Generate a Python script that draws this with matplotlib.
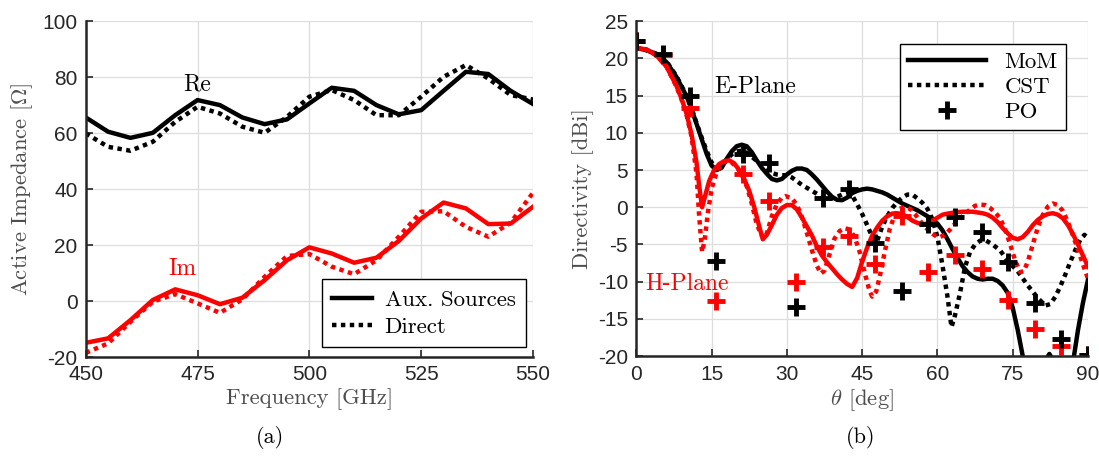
import numpy as np
import matplotlib
matplotlib.use('Agg')
import matplotlib.pyplot as plt

plt.rcParams['mathtext.fontset'] = 'cm'
plt.rcParams['axes.unicode_minus'] = False

# ---- (a) active impedance ----
freq = [450, 455, 460, 465, 470, 475, 480, 485, 490, 495, 500,
        505, 510, 515, 520, 525, 530, 535, 540, 545, 550]
re_aux = [65.6, 60.5, 58.3, 60.1, 66.4, 71.8, 70.0, 65.6, 63.2, 64.9, 70.6,
          76.2, 75.1, 70.0, 66.7, 68.2, 75.1, 81.9, 81.1, 75.1, 70.4]
re_dir = [59.9, 55.1, 53.7, 56.9, 64.0, 69.4, 67.0, 62.3, 60.1, 65.8, 73.0,
          75.4, 71.8, 66.4, 66.4, 73.0, 80.1, 84.3, 79.5, 73.6, 72.0]
im_aux = [-14.9, -13.3, -6.8, 0.4, 4.2, 2.1, -1.1, 1.2, 7.5, 14.6, 19.2,
          17.0, 13.7, 15.5, 21.5, 29.5, 35.2, 33.1, 27.5, 27.7, 33.7]
im_dir = [-18.5, -15.1, -7.4, -0.2, 2.5, -0.8, -4.2, 0.6, 8.7, 16.1, 16.8,
          12.3, 9.6, 14.6, 23.0, 31.9, 32.1, 26.5, 23.0, 28.0, 38.7]

# ---- (b) directivity ----
th_e_mom = [0, 2, 4, 6, 8, 10, 11, 12, 13, 14, 15, 16, 17, 18, 19, 20, 21, 22, 23, 24,
            25, 26, 27, 28, 29, 30, 31, 32, 33, 34, 35, 36, 37, 38, 39, 40, 41, 42, 43,
            44, 45, 46, 47, 48, 49, 50, 51, 52, 53, 54, 55, 56, 57, 58, 59, 60, 61, 62,
            63, 64, 65, 66, 67, 68, 69, 70, 71, 72, 73, 74, 75, 76, 77, 78, 80, 81.5,
            82.3, 83, 85, 86.5, 87.2, 88, 89, 90]
d_e_mom = [21.4, 21.1, 20.6, 19.5, 17.5, 14.9, 13.2, 11.2, 9.2, 7.2, 5.6, 5.0, 5.3, 6.5,
           7.5, 8.2, 8.4, 8.2, 7.4, 6.3, 5.3, 4.5, 3.8, 3.6, 3.8, 4.4, 4.9, 5.2, 5.2, 5.0,
           4.4, 3.7, 2.9, 2.1, 1.4, 1.0, 0.95, 1.3, 1.9, 2.2, 2.4, 2.5, 2.4, 2.2, 2.0, 1.7,
           1.3, 0.9, 0.5, 0.2, -0.1, -0.4, -0.8, -1.2, -1.6, -2.2, -3.1, -4.3, -5.6, -6.8,
           -7.9, -8.7, -9.3, -9.6, -9.7, -9.6, -9.6, -9.9, -10.5, -11.5, -13.5, -16.5,
           -20.0, -23.0, -25.0, -20.6, -19.7, -20.5, -25.0, -22.0, -20.0, -16.5, -12.8, -9.7]

th_e_cst = [0, 2, 4, 6, 8, 10, 11, 12, 13, 14, 15, 16, 17, 18, 19, 20, 21, 22, 23, 24,
            25, 26, 27, 28, 29, 30, 31, 32, 33, 34, 35, 36, 37, 38, 39, 40, 41, 42, 43,
            44, 45, 46, 47, 47.5, 48, 49, 50, 51, 52, 53, 54, 55, 56, 57, 58, 59, 60, 61,
            62, 62.8, 63.5, 64.5, 65.5, 66.5, 67.5, 68.5, 69.5, 71, 72.5, 74, 76, 78, 80,
            81.5, 82.5, 83.5, 84.5, 85.5, 86.5, 87.5, 88.5, 89.3, 90]
d_e_cst = [21.4, 21.1, 20.6, 19.6, 17.6, 15.0, 13.3, 11.3, 9.4, 7.6, 6.0, 5.4, 5.6, 6.4,
           7.1, 7.5, 7.6, 7.3, 6.8, 6.2, 5.6, 5.0, 4.6, 4.4, 4.3, 4.3, 4.0, 3.5, 3.0, 2.6,
           2.2, 1.8, 1.4, 1.2, 1.2, 1.4, 1.7, 1.9, 1.6, 0.4, -0.9, -2.4, -4.0, -4.7, -4.5,
           -2.6, -1.2, -0.1, 0.7, 1.3, 1.7, 1.7, 1.2, 0.6, -0.2, -1.6, -4.0, -7.8, -12.0,
           -16.1, -14.5, -11.5, -8.0, -6.0, -5.0, -4.5, -4.4, -5.0, -5.8, -7.2, -8.6,
           -10.5, -12.2, -13.2, -13.0, -12.0, -10.6, -9.0, -7.3, -5.7, -4.3, -3.7, -4.2]

th_h_mom = [0, 2, 4, 6, 8, 9, 10, 11, 12, 12.5, 13.1, 13.7, 14.5, 15.5, 16.5, 17.5, 18.5,
            19.5, 20.5, 21.5, 22.5, 23.5, 24.5, 25.2, 26, 27, 28, 29, 30, 31, 32, 33, 34,
            35, 36, 37, 38, 39, 40, 41, 42, 43, 44, 45, 46, 47, 48, 49, 50, 51, 52, 53,
            54, 55, 56, 57, 58, 59, 60, 61, 62, 63, 64, 65, 66, 67, 68, 69, 70, 71, 72,
            73, 74, 75, 76, 77, 78, 79, 80, 81, 82, 83, 84, 85, 86, 87, 88, 89, 90]
d_h_mom = [21.4, 21.2, 20.4, 18.9, 16.3, 14.6, 12.6, 9.8, 6.0, 3.0, 0.0, 1.5, 3.5, 5.0,
           5.8, 6.2, 6.3, 5.9, 5.0, 3.8, 2.2, 0.0, -2.6, -4.3, -3.7, -2.4, -1.0, -0.1, 0.3,
           0.3, -0.3, -1.4, -2.6, -3.8, -5.3, -6.5, -7.4, -8.2, -9.0, -9.7, -10.3, -10.7,
           -9.5, -7.3, -5.4, -3.8, -2.7, -1.8, -1.2, -0.85, -0.8, -0.95, -1.3, -1.8, -2.1,
           -2.3, -2.2, -1.8, -1.4, -1.0, -0.85, -0.75, -0.65, -0.6, -0.6, -0.6, -0.7,
           -0.8, -1.0, -1.4, -2.0, -2.8, -3.5, -4.1, -4.3, -4.0, -3.3, -2.4, -1.7, -1.2,
           -0.9, -0.8, -1.0, -1.5, -2.4, -3.6, -5.0, -6.5, -8.0]

th_h_cst = [0, 2, 4, 6, 8, 9, 10, 11, 12, 12.5, 13.1, 13.6, 14.2, 15, 16, 17, 18, 19, 20,
            21, 22, 23, 24, 25, 25.5, 26, 27, 28, 29, 29.7, 31, 32, 33, 34, 35, 36, 36.8,
            37.5, 38.5, 39.5, 40.5, 41.5, 42.5, 43.5, 44.5, 45.5, 46.5, 47, 47.8, 48.5,
            49.5, 50.5, 51.5, 52.5, 53.5, 54.5, 55.5, 56.5, 57.5, 58.5, 59.5, 60.5, 61.5,
            62.5, 63.5, 64.5, 65.5, 66.5, 67.5, 68.5, 69.5, 70.5, 71.5, 72.5, 73.5, 74.5,
            75.5, 76.5, 77.2, 78, 79, 80, 81, 82, 83, 84, 85, 86, 87, 88, 89, 90]
d_h_cst = [21.4, 21.2, 20.4, 18.9, 16.2, 14.5, 12.4, 9.5, 4.5, -1.0, -6.0, -4.5, -1.0,
           2.5, 4.7, 5.9, 6.2, 6.0, 5.4, 4.4, 2.8, 0.5, -2.3, -3.8, -4.2, -3.5, -1.2, 0.4,
           1.3, 1.5, 1.2, 0.3, -1.3, -3.5, -5.8, -7.9, -8.9, -8.5, -6.3, -4.2, -3.2, -2.8,
           -3.0, -4.0, -6.0, -8.8, -11.3, -12.0, -11.3, -9.3, -6.0, -2.9, -1.0, -0.2,
           0.05, -0.2, -0.9, -1.8, -2.6, -3.3, -3.8, -4.0, -3.7, -3.0, -2.2, -1.5, -0.9,
           -0.3, 0.2, 0.35, 0.3, -0.1, -0.7, -1.5, -3.0, -5.0, -7.2, -8.7, -8.6, -7.3,
           -5.0, -2.7, -1.0, 0.1, 0.5, 0.3, -0.5, -2.0, -3.8, -5.7, -7.7, -9.6]

th_po = [0, 5.3, 10.6, 15.9, 21.2, 26.5, 31.8, 37.1, 42.4, 47.6, 52.9, 58.2,
         63.5, 68.8, 74.1, 79.4, 84.7, 90]
d_e_po = [22.3, 20.6, 14.9, -7.2, 7.1, 5.9, -13.4, 1.3, 2.4, -4.8, -11.3, -2.3,
          -1.3, -3.3, -7.3, -12.8, -17.7, -19.8]
d_h_po = [22.3, 20.4, 13.3, -12.6, 4.5, 0.8, -10.0, -5.4, -3.9, -7.6, -1.2, -8.7,
          -6.4, -8.3, -12.5, -16.4, -18.6, -19.8]

RED = '#ff0000'
TXT = '#262626'
LBL = '#4d4d4d'
SERIF = 'cmr10'
LABEL_FS = 16.3
dot = (0, (1, 1))

fig = plt.figure(figsize=(10.99, 4.59), dpi=100)
ax1 = fig.add_axes([0.078, 0.222, 0.407, 0.732])
ax2 = fig.add_axes([0.579, 0.224, 0.411, 0.730])

def style(ax):
    for s in ['top', 'right']:
        ax.spines[s].set_visible(False)
    for s in ['left', 'bottom']:
        ax.spines[s].set_linewidth(1.8)
        ax.spines[s].set_color(TXT)
    ax.grid(True, color='#dddddd', linewidth=0.9)
    ax.set_axisbelow(True)
    ax.tick_params(direction='in', length=5, width=1.2, colors=TXT,
                   labelsize=15, pad=6)
    for lab in ax.get_xticklabels() + ax.get_yticklabels():
        lab.set_fontfamily('Liberation Sans')

# (a)
l1, = ax1.plot(freq, re_aux, color='k', lw=3.2)
l2, = ax1.plot(freq, re_dir, color='k', lw=3.2, linestyle=dot)
ax1.plot(freq, im_aux, color=RED, lw=3.2)
ax1.plot(freq, im_dir, color=RED, lw=3.2, linestyle=dot)
ax1.set_xlim(450, 550)
ax1.set_ylim(-20, 100)
ax1.set_xticks([450, 475, 500, 525, 550])
ax1.set_yticks([-20, 0, 20, 40, 60, 80, 100])
style(ax1)
ax1.set_xlabel('Frequency [GHz]', family=SERIF, fontsize=LABEL_FS, color=LBL, labelpad=3)
ax1.set_ylabel(r'Active Impedance [$\Omega$]', family=SERIF, fontsize=LABEL_FS,
               color=LBL, labelpad=5)
ax1.text(474.8, 77.5, 'Re', family=SERIF, fontsize=17, color='k', ha='center', va='center')
ax1.text(471.7, 11.5, 'Im', family=SERIF, fontsize=17, color=RED, ha='center', va='center')
leg1 = ax1.legend([l1, l2], ['Aux. Sources', 'Direct'], loc='lower right',
                  bbox_to_anchor=(0.984, 0.03), borderaxespad=0,
                  prop={'family': SERIF, 'size': 16.5},
                  fancybox=False, framealpha=1, edgecolor='k', handlelength=1.75,
                  handletextpad=0.55, borderpad=0.45, labelspacing=0.3)
leg1.get_frame().set_linewidth(1.0)

# (b)
m1, = ax2.plot(th_e_mom, d_e_mom, color='k', lw=3.2)
m2, = ax2.plot(th_e_cst, d_e_cst, color='k', lw=3.2, linestyle=dot)
ax2.plot(th_h_mom, d_h_mom, color=RED, lw=3.2)
ax2.plot(th_h_cst, d_h_cst, color=RED, lw=3.2, linestyle=dot)
ax2.plot(th_po, d_h_po, linestyle='none', marker='+', ms=13, mew=3.5, color=RED)
m3, = ax2.plot(th_po, d_e_po, linestyle='none', marker='+', ms=13, mew=3.5, color='k')
ax2.set_xlim(0, 90)
ax2.set_ylim(-20, 25)
ax2.set_xticks([0, 15, 30, 45, 60, 75, 90])
ax2.set_yticks([-20, -15, -10, -5, 0, 5, 10, 15, 20, 25])
style(ax2)
ax2.set_xlabel(r'$\theta$ [deg]', family=SERIF, fontsize=LABEL_FS, color=LBL, labelpad=3)
ax2.set_ylabel('Directivity [dBi]', family=SERIF, fontsize=LABEL_FS, color=LBL, labelpad=3)
ax2.text(23.7, 16.1, 'E-Plane', family=SERIF, fontsize=17, color='k', ha='center',
         va='center')
ax2.text(10.0, -10.3, 'H-Plane', family=SERIF, fontsize=17, color=RED, ha='center',
         va='center')
leg2 = ax2.legend([m1, m2, m3], ['MoM', 'CST', 'PO'], loc='upper right',
                  bbox_to_anchor=(0.951, 0.931), borderaxespad=0,
                  prop={'family': SERIF, 'size': 16.5},
                  fancybox=False, framealpha=1, edgecolor='k', handlelength=3.4,
                  handletextpad=0.8, borderpad=0.35, labelspacing=0.2)
leg2.get_frame().set_linewidth(1.0)

fig.text(0.246, 0.035, '(a)', family=SERIF, fontsize=16, color='k', ha='center')
fig.text(0.783, 0.035, '(b)', family=SERIF, fontsize=16, color='k', ha='center')

fig.savefig('out.png', dpi=100)
